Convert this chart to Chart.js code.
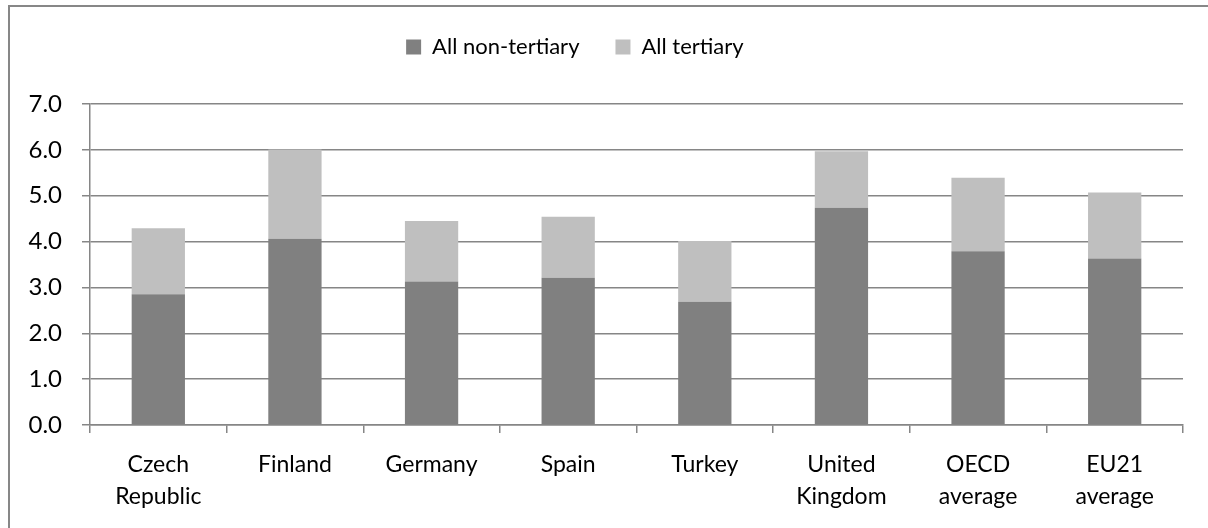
<!DOCTYPE html>
<html>
<head>
<meta charset="utf-8">
<script src="https://cdn.jsdelivr.net/npm/chart.js@4"></script>
<style>
  html, body { margin: 0; padding: 0; background: #fff; overflow: hidden; }
  #wrap { position: absolute; left: 0; top: 0; width: 1208px; height: 528px; }
  #frame { position: absolute; left: 8px; top: 5px; width: 1300px; height: 600px;
           border: 2px solid #878787; pointer-events: none; }
</style>
</head>
<body>
<div id="wrap"><canvas id="grafica"></canvas></div>
<div id="frame"></div>
<script>
// datos
const categorias = [["Czech", "Republic"], "Finland", "Germany", "Spain", "Turkey",
  ["United", "Kingdom"], ["OECD", "average"], ["EU21", "average"]];
const noTerciaria = [2.85, 4.06, 3.13, 3.21, 2.69, 4.74, 3.79, 3.63];
const terciaria = [1.44, 1.95, 1.32, 1.33, 1.32, 1.23, 1.60, 1.44];
const ticksY = [0, 1, 2, 3, 4, 5, 6, 7];

const gris = '#868686';
const fuente = 'Lato, "Open Sans", sans-serif';

const graphic = document.getElementById("grafica");

const data = {
  labels: categorias,
  datasets: [
    { label: "All non-tertiary", data: noTerciaria, backgroundColor: '#808080' },
    { label: "All tertiary", data: terciaria, backgroundColor: '#bfbfbf' }
  ]
};

const config = {
  type: 'bar',
  data: data,
  options: {
    responsive: true,
    maintainAspectRatio: false,
    animation: false,
    datasets: { bar: { barPercentage: 0.39, categoryPercentage: 1, borderWidth: 0 } },
    layout: { padding: { left: 0, right: 25, top: 0, bottom: 0 } },
    plugins: {
      tooltip: { enabled: false },
      legend: {
        position: 'top',
        labels: {
          boxWidth: 15, boxHeight: 15, padding: 36, color: '#000',
          font: { family: fuente, size: 22 },
          generateLabels: (chart) => {
            const items = Chart.defaults.plugins.legend.labels.generateLabels(chart);
            // espacios al final para correr la leyenda un poco a la izquierda
            items[items.length - 1].text += '\u00a0\u00a0\u00a0\u00a0\u00a0\u00a0';
            return items;
          }
        }
      },
      subtitle: { // espacio entre leyenda y grafico
        display: true, text: ' ', weight: 500,
        font: { size: 1, lineHeight: 1 }, padding: { top: 0, bottom: 35 }
      }
    },
    scales: {
      x: {
        stacked: true,
        offset: true,
        afterFit: (s) => { s.height = 103; },
        grid: { drawOnChartArea: false, drawTicks: true, tickLength: 8, color: gris, lineWidth: 1.5, offset: true },
        border: { display: true, color: gris, width: 1.5 },
        ticks: { color: '#000', padding: 15, maxRotation: 0, autoSkip: false,
                 font: { family: fuente, size: 23, lineHeight: 1.4 } }
      },
      y: {
        stacked: true,
        min: ticksY[0], max: ticksY[ticksY.length - 1],
        afterFit: (s) => { s.width = 90; },
        afterBuildTicks: (s) => { s.ticks = ticksY.map(v => ({ value: v })); },
        grid: { color: gris, lineWidth: 1.5, tickLength: 8 },
        border: { display: true, color: gris, width: 1.5 },
        ticks: { color: '#000', padding: 20, font: { family: fuente, size: 24 },
                 callback: (v) => Number(v).toFixed(1) }
      }
    }
  }
};

new Chart(graphic, config);
</script>
</body>
</html>
